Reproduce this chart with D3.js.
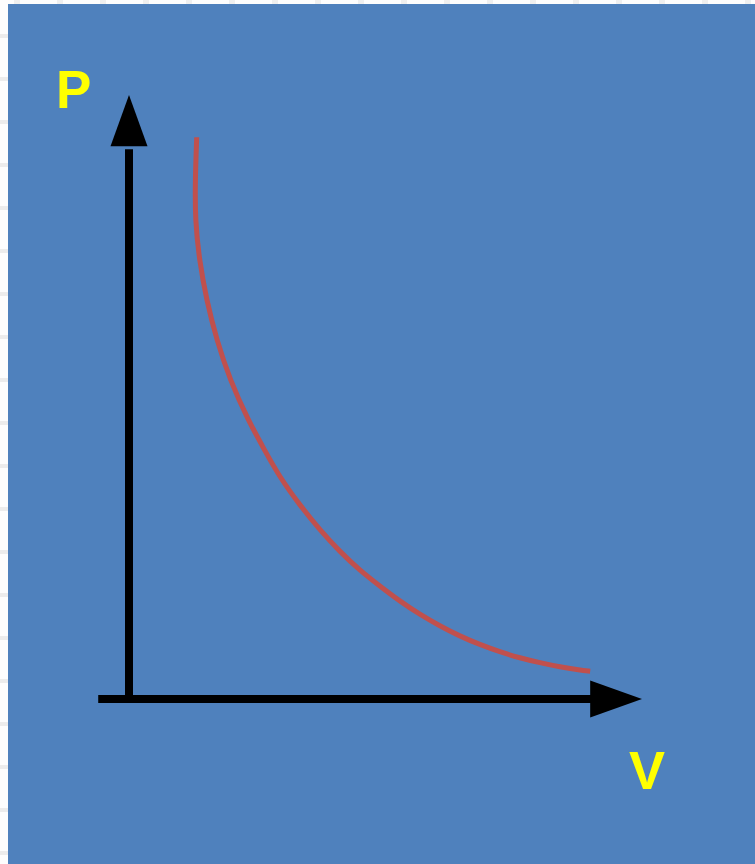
<!DOCTYPE html>
<meta charset="utf-8">
<title>P-V isotherm</title>
<style>
body {
  margin: 0px;
  background: #fff;
}
svg {
  display: block;
}
.label {
  font-family: "Liberation Sans", Arial, sans-serif;
  font-weight: bold;
  fill: #ffff00;
}
</style>
<script src="https://d3js.org/d3.v7.min.js"></script>
<body>
<script>
var width = 755, height = 864;

// curve points (V, P), axis units 0..10
var curveV = [1.32, 1.29, 1.29, 1.37, 1.51, 1.71, 1.97, 2.32, 2.63, 2.94, 3.33, 3.72, 4.11, 4.50, 4.89, 5.28,
              5.67, 6.06, 6.45, 6.84, 7.23, 7.62, 8.01, 8.40, 8.79, 8.99];
var curveP = [9.30, 8.59, 7.93, 7.27, 6.61, 5.94, 5.28, 4.62, 4.14, 3.67, 3.21, 2.80, 2.44, 2.13, 1.87, 1.62,
              1.40, 1.21, 1.04, 0.90, 0.78, 0.68, 0.60, 0.53, 0.48, 0.46];

var axisLabels = ["P", "V"];

var svg = d3.select("body").append("svg")
    .attr("width", width)
    .attr("height", height);

// slide frame: faint dashed border on the left and top
var frame = svg.append("g");
frame.append("rect")
    .attr("width", width).attr("height", height)
    .style("fill", "#fdfdfd");
d3.range(0, 20).forEach(function(i) {
  frame.append("rect")
      .attr("x", 0).attr("y", 34 + i * 43)
      .attr("width", 8).attr("height", 4)
      .style("fill", "#ececec");
  frame.append("rect")
      .attr("x", 14 + i * 43).attr("y", 0)
      .attr("width", 6).attr("height", 4)
      .style("fill", "#efefef");
});

svg.append("rect")
    .attr("x", 8).attr("y", 4)
    .attr("width", width - 8).attr("height", height - 4)
    .style("fill", "#4f81bd");

var x = d3.scaleLinear().domain([0, 10]).range([129, 642]);
var y = d3.scaleLinear().domain([0, 10]).range([699, 95]);

// axes with arrow heads
svg.append("line")
    .attr("x1", x(-0.6)).attr("x2", x(9.05))
    .attr("y1", y(0)).attr("y2", y(0))
    .style("stroke", "#000").style("stroke-width", 8);
svg.append("line")
    .attr("x1", x(0)).attr("x2", x(0))
    .attr("y1", y(0) + 4).attr("y2", y(9.1))
    .style("stroke", "#000").style("stroke-width", 8);

svg.append("path")
    .attr("d", "M" + x(10) + "," + y(0) + "L" + x(8.99) + "," + (y(0) - 18.5) + "L" + x(8.99) + "," + (y(0) + 18.5) + "Z")
    .style("fill", "#000");
svg.append("path")
    .attr("d", "M" + x(0) + "," + y(10) + "L" + (x(0) - 18.5) + "," + y(9.15) + "L" + (x(0) + 18.5) + "," + y(9.15) + "Z")
    .style("fill", "#000");

var line = d3.line()
    .x(function(d) { return x(d[0]); })
    .y(function(d) { return y(d[1]); })
    .curve(d3.curveBasis);

svg.append("path")
    .datum(d3.zip(curveV, curveP))
    .attr("d", line)
    .style("fill", "none")
    .style("stroke", "#c0504d")
    .style("stroke-width", 5);

svg.append("text")
    .attr("class", "label")
    .attr("x", 56).attr("y", 108)
    .style("font-size", "53px")
    .text(axisLabels[0]);
svg.append("text")
    .attr("class", "label")
    .attr("x", 629).attr("y", 789)
    .style("font-size", "54px")
    .text(axisLabels[1]);
</script>
